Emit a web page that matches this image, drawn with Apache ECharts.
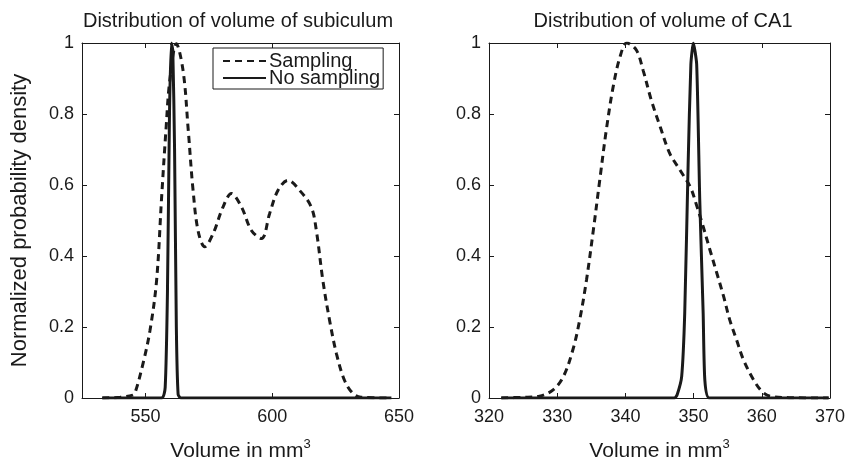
<!DOCTYPE html>
<html>
<head>
<meta charset="utf-8">
<script src="https://cdn.jsdelivr.net/npm/echarts@6/dist/echarts.min.js"></script>
<style>html,body{margin:0;padding:0;background:#fff}#c{width:845px;height:464px}</style>
</head>
<body>
<div id="c"></div>
<script>
// Subiculum panel
var subSampX = [533, 540, 545, 545.9, 549.1, 551.8, 554.4, 556.4, 558.1, 559.6, 562.2, 564.9, 566.9, 568.8, 570.8, 573.4, 576.7, 580.6, 583.9, 587.9, 591.8, 595.8, 599, 602.3, 606.2, 610.8, 615.4, 617.4, 620, 622.6, 625.3, 628.5, 631.8, 635, 647];
var subSampY = [0, 0.002, 0.008, 0.014, 0.098, 0.19, 0.33, 0.566, 0.754, 0.894, 0.998, 0.92, 0.754, 0.585, 0.47, 0.426, 0.463, 0.538, 0.576, 0.538, 0.472, 0.449, 0.52, 0.585, 0.613, 0.585, 0.538, 0.472, 0.33, 0.22, 0.126, 0.05, 0.013, 0.002, 0];
var subNoX = [533, 556.5, 557.8, 558.7, 559.5, 560.2, 560.8, 561.5, 562.2, 562.9, 564, 647];
var subNoY = [0, 0, 0.03, 0.3, 0.8, 1, 0.98, 0.7, 0.2, 0.01, 0, 0];
// CA1 panel
var caSampX = [321.8, 325, 327.4, 329.4, 330.9, 332.3, 333.3, 334.3, 335.3, 336.3, 337.2, 338.2, 339.2, 340.2, 341.6, 342.6, 343.8, 345.1, 346.5, 348, 349.5, 350.5, 351.4, 352.4, 353.4, 354.4, 355.3, 356.3, 357.3, 358.8, 360, 361.2, 364, 369.8];
var caSampY = [0, 0.002, 0.005, 0.023, 0.06, 0.136, 0.22, 0.333, 0.473, 0.623, 0.755, 0.876, 0.96, 1.0, 0.98, 0.923, 0.839, 0.764, 0.689, 0.642, 0.595, 0.539, 0.483, 0.417, 0.352, 0.286, 0.22, 0.164, 0.108, 0.051, 0.019, 0.005, 0.001, 0];
var caNoX = [321.8, 347.2, 347.6, 348.25, 348.7, 349.2, 349.6, 349.96, 350.45, 350.9, 351.4, 351.65, 352.3, 369.8];
var caNoY = [0, 0, 0.01, 0.06, 0.24, 0.66, 0.94, 1, 0.94, 0.56, 0.24, 0.05, 0, 0];

var titles = ['Distribution of volume of subiculum', 'Distribution of volume of CA1'];
var xLim = [[525, 650], [320, 370]];
var xInt = [25, 10];
var xTickLabels = [[550, 600, 650], [320, 330, 340, 350, 360, 370]];
var yTicks = [0, 0.2, 0.4, 0.6, 0.8, 1];
var seriesNames = ['Sampling', 'No sampling'];

function zip(a, b) { return a.map(function (v, i) { return [v, b[i]]; }); }

var FONT = 'Liberation Sans';
var INK = '#1a1a1a';
var grids = [
  { left: 82, top: 43, width: 317, height: 355, outerBoundsMode: 'none', containLabel: false },
  { left: 489, top: 43, width: 341, height: 355, outerBoundsMode: 'none', containLabel: false }
];
var xAxes = [], yAxes = [];
for (var g = 0; g < 2; g++) {
  var tickCommon = { show: true, inside: true, length: 5, customValues: xTickLabels[g], lineStyle: { color: INK } };
  var base = {
    type: 'value', gridIndex: g, min: xLim[g][0], max: xLim[g][1], interval: xInt[g],
    axisLine: { show: true, onZero: false, lineStyle: { color: INK, width: 1 } },
    axisTick: tickCommon,
    splitLine: { show: false }
  };
  xAxes.push(Object.assign({}, base, {
    position: 'bottom',
    axisLabel: {
      fontFamily: FONT, fontSize: 18, color: INK, margin: 10,
      customValues: xTickLabels[g]
    },
    name: '{a|Volume in mm}{s|3}', nameLocation: 'middle', nameGap: 40,
    nameTextStyle: { rich: { a: { fontFamily: FONT, fontSize: 21, color: INK }, s: { fontFamily: FONT, fontSize: 13, color: INK, verticalAlign: 'top', padding: [0, 0, 14, 0] } } }
  }));
  xAxes.push(Object.assign({}, base, { position: 'top', axisLabel: { show: false } }));
  var ybase = {
    type: 'value', gridIndex: g, min: 0, max: 1, interval: 0.2,
    axisLine: { show: true, onZero: false, lineStyle: { color: INK, width: 1 } },
    axisTick: { show: true, inside: true, length: 5, lineStyle: { color: INK } },
    splitLine: { show: false }
  };
  var yl = Object.assign({}, ybase, {
    position: 'left',
    axisLabel: {
      fontFamily: FONT, fontSize: 18, color: INK, margin: 8,
      customValues: yTicks,
      formatter: function (v) { return (v === 0 || v === 1) ? String(v) : v.toFixed(1); }
    }
  });
  if (g === 0) {
    yl.name = 'Normalized probability density';
    yl.nameLocation = 'middle';
    yl.nameGap = 51;
    yl.nameTextStyle = { fontFamily: FONT, fontSize: 22, color: INK };
  }
  yAxes.push(yl);
  yAxes.push(Object.assign({}, ybase, { position: 'right', axisLabel: { show: false } }));
}

var dashStyle = { color: INK, width: 3, type: [7, 5] };
var solidStyle = { color: INK, width: 3, type: 'solid' };
var series = [
  { name: seriesNames[0], type: 'line', xAxisIndex: 0, yAxisIndex: 0, data: zip(subSampX, subSampY), smooth: 0.35, showSymbol: false, symbol: 'none', lineStyle: dashStyle, itemStyle: { color: INK }, z: 3 },
  { name: seriesNames[1], type: 'line', xAxisIndex: 0, yAxisIndex: 0, data: zip(subNoX, subNoY), smooth: 0.2, showSymbol: false, symbol: 'none', lineStyle: solidStyle, itemStyle: { color: INK }, z: 4 },
  { name: 'ca1s', type: 'line', xAxisIndex: 2, yAxisIndex: 2, data: zip(caSampX, caSampY), smooth: 0.35, showSymbol: false, symbol: 'none', lineStyle: dashStyle, z: 3 },
  { name: 'ca1n', type: 'line', xAxisIndex: 2, yAxisIndex: 2, data: zip(caNoX, caNoY), smooth: 0.2, showSymbol: false, symbol: 'none', lineStyle: solidStyle, z: 4 }
];

var chart = echarts.init(document.getElementById('c'), null, { renderer: 'canvas' });
chart.setOption({
  animation: false,
  backgroundColor: '#fff',
  title: [
    { text: titles[0], left: 233, top: 6, textAlign: 'center', textStyle: { fontFamily: FONT, fontSize: 20, fontWeight: 'normal', color: INK } },
    { text: titles[1], left: 658, top: 6, textAlign: 'center', textStyle: { fontFamily: FONT, fontSize: 20, fontWeight: 'normal', color: INK } }
  ],
  grid: grids,
  xAxis: xAxes,
  yAxis: yAxes,
  legend: {
    data: seriesNames, orient: 'vertical', left: 213, top: 48,
    itemWidth: 43, itemHeight: 16, itemGap: -3,
    padding: [3, 3, 1, 9],
    borderColor: INK, borderWidth: 1, backgroundColor: '#fff',
    itemStyle: { opacity: 0 },
    textStyle: { fontFamily: FONT, fontSize: 20, color: INK, padding: [0, 0, 0, -2] }
  },
  series: series
});
</script>
</body>
</html>
